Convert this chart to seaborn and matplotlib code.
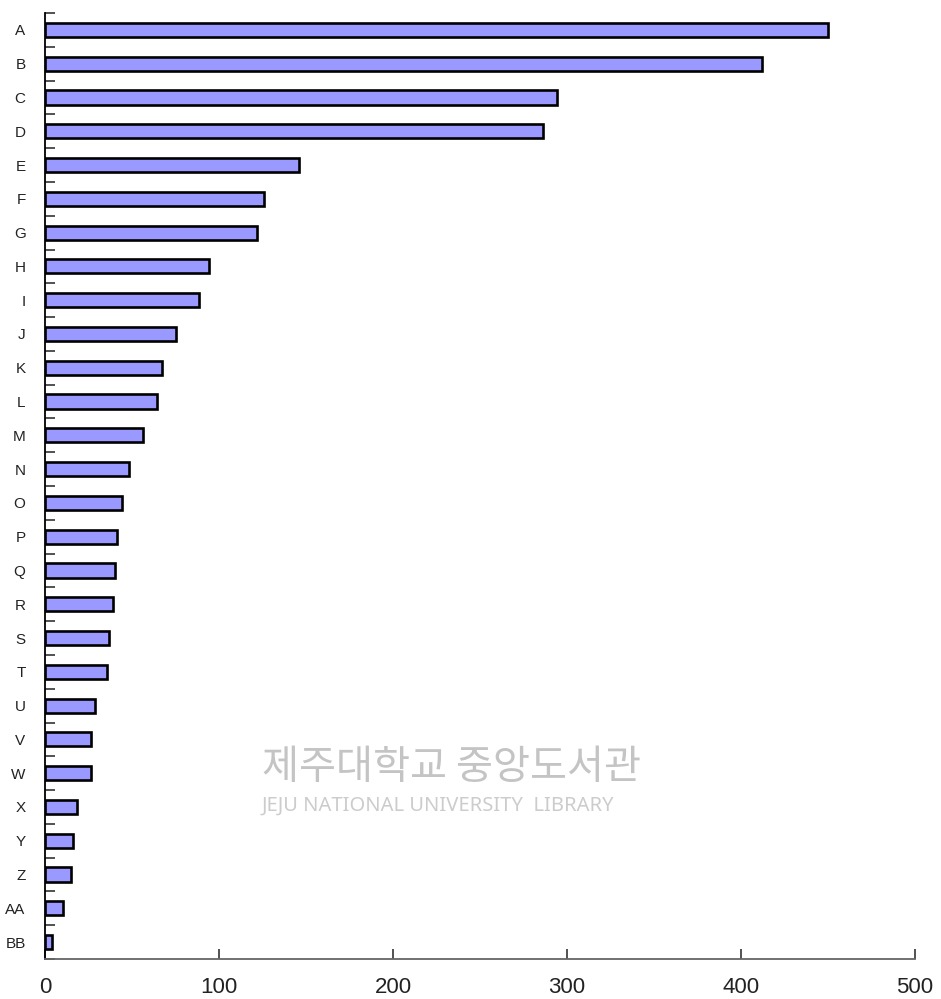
import matplotlib
matplotlib.use("Agg")
import matplotlib.pyplot as plt
import numpy as np
import pandas as pd
import seaborn as sns

# category labels and counts
labels = ["A", "B", "C", "D", "E", "F", "G", "H", "I", "J", "K", "L", "M", "N",
          "O", "P", "Q", "R", "S", "T", "U", "V", "W", "X", "Y", "Z", "AA", "BB"]
counts = [450, 412, 294, 286, 146, 126, 122, 94, 88.5, 75, 67, 64.5, 56.5, 48.5,
          44, 41.5, 40.2, 39.3, 37, 35.8, 29, 26.6, 26.6, 18.6, 16, 15, 10.5, 3.8]
x_ticks = [0, 100, 200, 300, 400, 500]

df = pd.DataFrame({"label": labels, "count": counts})

sns.set_style("white")
plt.rcParams["font.family"] = ["Liberation Sans", "DejaVu Sans"]

fig = plt.figure(figsize=(9.41, 9.99), dpi=100)
ax = fig.add_axes([45 / 941, 1 - 959 / 999, 870 / 941, 946 / 999])

sns.barplot(data=df, x="count", y="label", orient="h", color="#9999ff",
            saturation=1, width=0.42, edgecolor="black", linewidth=1.9, ax=ax)

ax.set_xlim(0, 500)
ax.set_ylim(len(labels) - 0.5, -0.5)
ax.set_xticks(x_ticks)
ax.set_xticklabels([str(t) for t in x_ticks])
ax.set_xlabel("")
ax.set_ylabel("")

# ticks between categories, pointing inward
ax.set_yticks(np.arange(len(labels)))
ax.set_yticklabels(labels)
ax.set_yticks(np.arange(len(labels) + 1) - 0.5, minor=True)
ax.tick_params(axis="y", which="major", length=0, pad=14, labelsize=11,
               colors="#222222")
ax.tick_params(axis="y", which="minor", direction="in", length=7, width=1.2,
               color="#333333", left=True)
ax.tick_params(axis="x", which="major", direction="in", length=7, width=1.2,
               color="#333333", pad=13, labelsize=16, labelcolor="#222222",
               bottom=True)

for side in ["top", "right"]:
    ax.spines[side].set_visible(False)
ax.spines["left"].set_color("black")
ax.spines["left"].set_linewidth(1.3)
ax.spines["bottom"].set_color("#666666")
ax.spines["bottom"].set_linewidth(1.3)

# faint library watermark
fig.text(262 / 941, 1 - 767 / 999, "제주대학교 중앙도서관", fontsize=29,
         color="#c4c4c4", va="center", ha="left",
         family=["Noto Sans CJK KR", "DejaVu Sans"], zorder=0)
fig.text(262 / 941, 1 - 806 / 999, "JEJU NATIONAL UNIVERSITY  LIBRARY",
         fontsize=14.5, color="#cccccc", va="center", ha="left",
         family=["Noto Sans", "DejaVu Sans"], zorder=0)

fig.savefig("out.png", dpi=100)
